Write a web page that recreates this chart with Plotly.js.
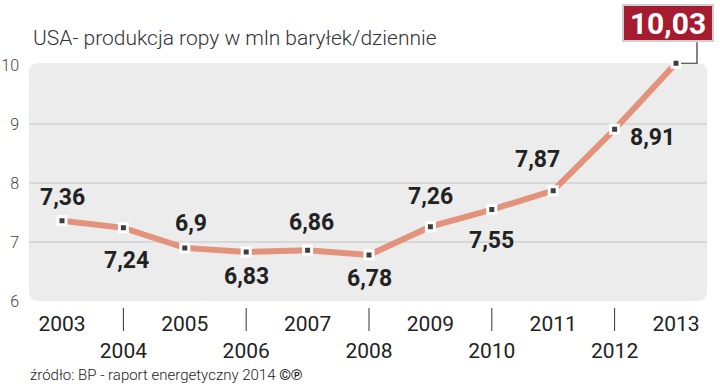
<!DOCTYPE html>
<html>
<head>
<meta charset="utf-8">
<script src="https://cdn.plot.ly/plotly-3.0.1.min.js"></script>
<style>
html,body{margin:0;padding:0;background:#fff;}
#chart{width:720px;height:387px;}
</style>
</head>
<body>
<div id="chart"></div>
<script>
// ---- data ----
const years = [2003, 2004, 2005, 2006, 2007, 2008, 2009, 2010, 2011, 2012, 2013];
const production = [7.36, 7.24, 6.9, 6.83, 6.86, 6.78, 7.26, 7.55, 7.87, 8.91, 10.03];
const valueLabels = ['7,36', '7,24', '6,9', '6,83', '6,86', '6,78', '7,26', '7,55', '7,87', '8,91', '10,03'];
const yTicks = [6, 7, 8, 9, 10];
const gridValues = [7, 8, 9];
const titleText = 'USA- produkcja ropy w mln baryłek/dziennie';
const sourceText = 'źródło: BP - raport energetyczny 2014 <b>©℗</b>';

// ---- label placement (pixel offsets from each point) ----
const labelDx = [0, 3, 6, 0, 4, 0, 0, 0, -16, 38, -8];
const labelDy = [23, -33, 24, -24, 28, -24, 30, -31, 31, -8, 40];

const W = 720, H = 387;
const mL = 29, mR = 13, mT = 63, mB = 86;
const plotW = W - mL - mR, plotH = H - mT - mB;
const xRange = [2002.4625, 2013.5049];
const yRange = [6, 10 + 2/59];

const rx = 10 / plotW, ry = 10 / plotH;
const bgPath = `M ${rx},0 L ${1-rx},0 Q 1,0 1,${ry} L 1,${1-ry} Q 1,1 ${1-rx},1 L ${rx},1 Q 0,1 0,${1-ry} L 0,${ry} Q 0,0 ${rx},0 Z`;

const shapes = [
  {type:'path', xref:'paper', yref:'paper', path:bgPath, fillcolor:'#ececec', line:{width:0}, layer:'below'}
];
gridValues.forEach(v => shapes.push({
  type:'line', xref:'paper', yref:'y', x0:0, x1:1, y0:v, y1:v,
  line:{color:'#c4c4c4', width:1}, layer:'below'
}));
// separators between label rows at even years
years.forEach(y => {
  if (y % 2 === 0) shapes.push({
    type:'line', xref:'x', yref:'paper', ysizemode:'pixel', yanchor:0,
    x0:y, x1:y, y0:-7, y1:-30, line:{color:'#333', width:1}
  });
});
// leader for last value box (paper refs so it is not clipped)
const lastI = years.length - 1;
const lastPx = (years[lastI] - xRange[0]) / (xRange[1] - xRange[0]);
const lastPy = (production[lastI] - yRange[0]) / (yRange[1] - yRange[0]);
shapes.push({type:'path', xref:'paper', yref:'paper', xsizemode:'pixel', ysizemode:'pixel',
  xanchor:lastPx, yanchor:lastPy, path:'M 5,0 L 21,0 L 21,21',
  line:{color:'#333', width:1.2}});

const annotations = [];
years.forEach((yr, i) => {
  if (i === lastI) {
    annotations.push({
      xref:'x', yref:'y', x:yr, y:production[i], xshift:labelDx[i], yshift:labelDy[i],
      showarrow:false, text:'<b>'+valueLabels[i]+'</b>',
      font:{family:'Roboto, sans-serif', size:30, color:'#ffffff', weight:700},
      bgcolor:'#a51b30', bordercolor:'#cfcfcf', borderwidth:2, borderpad:0,
      width:88, height:34, xanchor:'center', yanchor:'middle'
    });
  } else {
    annotations.push({
      xref:'x', yref:'y', x:yr, y:production[i], xshift:labelDx[i], yshift:labelDy[i],
      showarrow:false, text:'<b>'+valueLabels[i]+'</b>',
      font:{family:'Roboto, sans-serif', size:23, color:'#222222', weight:700},
      xanchor:'center', yanchor:'middle'
    });
  }
});
annotations.push({
  xref:'paper', yref:'paper', x:-1/plotW, y:-74/plotH, xanchor:'left', yanchor:'middle',
  showarrow:false, text:sourceText,
  font:{family:'Roboto, sans-serif', size:15, color:'#222', weight:300}
});

const tickText = years.map(y => (y % 2 === 0) ? '<br>' + y : String(y));

const trace = {
  type:'scatter', mode:'lines+markers', x:years, y:production,
  line:{color:'#e3927c', width:6},
  marker:{symbol:'square', size:8, color:'#3d3d3d', line:{color:'#ffffff', width:3}},
  cliponaxis:false, hoverinfo:'none'
};

const layout = {
  width:W, height:H,
  margin:{l:mL, r:mR, t:mT, b:mB, pad:0},
  paper_bgcolor:'#ffffff', plot_bgcolor:'rgba(0,0,0,0)',
  showlegend:false,
  title:{text:titleText, xref:'container', yref:'container', x:33/W, xanchor:'left',
         y:1-38/H, yanchor:'middle',
         font:{family:'Roboto, sans-serif', size:21, color:'#333', weight:300}},
  xaxis:{range:xRange, tickvals:years, ticktext:tickText,
         showgrid:false, zeroline:false, showline:false, ticks:'',
         ticklabelstandoff:8,
         tickfont:{family:'Roboto, sans-serif', size:21, color:'#222'}},
  yaxis:{range:yRange, tickvals:yTicks, ticktext:yTicks.map(String),
         showgrid:false, zeroline:false, showline:false, ticks:'',
         ticklabelstandoff:9,
         tickfont:{family:'Roboto, sans-serif', size:16, color:'#444', weight:300}},
  shapes:shapes, annotations:annotations
};

Plotly.newPlot('chart', [trace], layout, {displayModeBar:false, staticPlot:true});
</script>
</body>
</html>
